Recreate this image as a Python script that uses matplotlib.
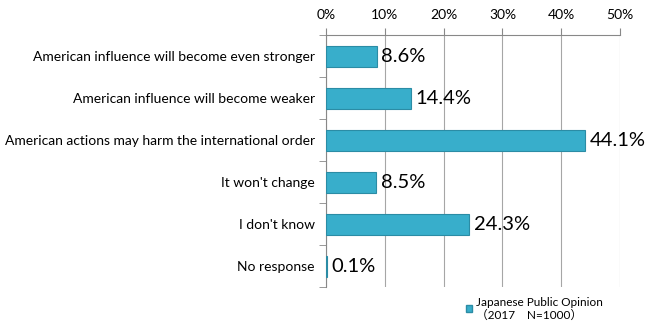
import numpy as np
import matplotlib.pyplot as plt
from matplotlib.patches import Patch

plt.rcParams['font.family'] = ['Lato', 'Noto Sans CJK JP', 'DejaVu Sans']

# Donnees
categories = ["American influence will become even stronger",
              "American influence will become weaker",
              "American actions may harm the international order",
              "It won't change",
              "I don't know",
              "No response"]
values = [8.6, 14.4, 44.1, 8.5, 24.3, 0.1]
ticks = [0, 10, 20, 30, 40, 50]
legend_label = "Japanese Public Opinion\n（2017　N=1000）"

fig = plt.figure(figsize=(6.5, 3.28), dpi=100)
ax = fig.add_axes([0.5015, 0.125, 0.4525, 0.768])

y = np.arange(len(categories))
ax.barh(y, values, height=0.5, color='#38AECB', edgecolor='#2B8CA5', linewidth=0.8, zorder=3)
for yi, v in zip(y, values):
    ax.text(v + 0.8, yi, "%.1f%%" % v, va='center', ha='left', fontsize=14.5, color='black', zorder=4)

ax.set_xlim(0, 50)
ax.set_ylim(len(categories) - 0.5, -0.5)
ax.xaxis.tick_top()
ax.set_xticks(ticks)
ax.set_xticklabels(["%d%%" % t for t in ticks], fontsize=10)
ax.tick_params(axis='x', length=5, color='#888888', pad=5)
ax.grid(True, axis='x', color='#A6A6A6', linewidth=0.8, zorder=0)

ax.set_yticks(y)
ax.set_yticklabels(categories, fontsize=10)
ax.set_yticks(np.arange(len(categories) + 1) - 0.5, minor=True)
ax.tick_params(axis='y', which='major', length=0, pad=8)
ax.tick_params(axis='y', which='minor', length=5, color='#888888')

for s in ['right', 'bottom']:
    ax.spines[s].set_visible(False)
ax.spines['top'].set_color('#888888')
ax.spines['left'].set_color('#888888')

fig.legend(handles=[Patch(facecolor='#38AECB', edgecolor='#2B8CA5')], labels=[legend_label],
           loc='lower left', bbox_to_anchor=(0.70, -0.01), frameon=False, fontsize=8.5,
           handlelength=0.55, handleheight=0.55, handletextpad=0.3)

fig.savefig("out.png")
